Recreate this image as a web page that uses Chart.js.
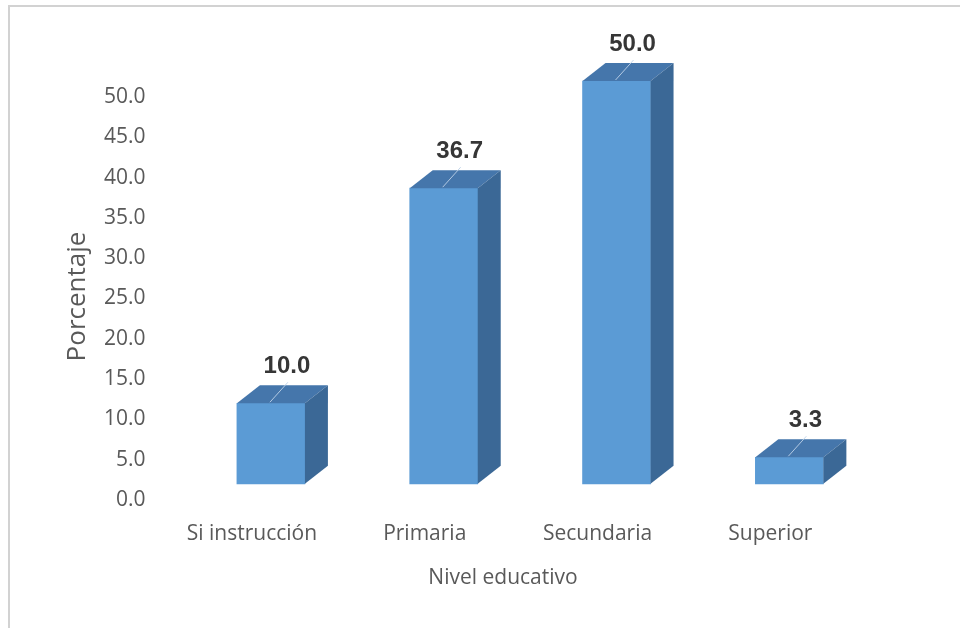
<!DOCTYPE html>
<html>
<head>
<meta charset="utf-8">
<script src="https://cdn.jsdelivr.net/npm/chart.js@4.4.1/dist/chart.umd.min.js"></script>
<style>
  html, body { margin: 0; padding: 0; background: #fff; }
  #wrap { width: 960px; height: 628px; }
</style>
</head>
<body>
<div id="wrap"><canvas id="bar-chart" width="960" height="628"></canvas></div>
<script>
const levels = ['Si instrucción', 'Primaria', 'Secundaria', 'Superior'];
const percentages = [10.0, 36.7, 50.0, 3.3];
const yMin = -3.5;   // axis runs a little under zero, bars still start at 0
const yMax = 50;
const yStep = 5;

const frontColor = '#5b9bd5';
const topColor = '#4576ab';
const sideColor = '#3b6896';
const depthX = 23;
const depthY = 18;

Chart.defaults.font.family = "'Open Sans', sans-serif";

// frame line along the top and left edge
const framePlugin = {
  id: 'frame',
  beforeDraw(chart) {
    const ctx = chart.ctx;
    ctx.save();
    ctx.fillStyle = '#fff';
    ctx.fillRect(0, 0, chart.width, chart.height);
    ctx.strokeStyle = '#d2d2d2';
    ctx.lineWidth = 2;
    ctx.beginPath();
    ctx.moveTo(9, chart.height);
    ctx.lineTo(9, 6);
    ctx.lineTo(chart.width, 6);
    ctx.stroke();
    ctx.restore();
  }
};

// top and side faces of each bar, plus the value label with its leader line
const bar3dPlugin = {
  id: 'bar3d',
  afterDatasetsDraw(chart) {
    const ctx = chart.ctx;
    const meta = chart.getDatasetMeta(0);
    ctx.save();
    meta.data.forEach((bar, i) => {
      const {x, y, base, width} = bar.getProps(['x', 'y', 'base', 'width'], true);
      const l = x - width / 2;
      const r = x + width / 2;

      ctx.fillStyle = topColor;
      ctx.beginPath();
      ctx.moveTo(l, y);
      ctx.lineTo(l + depthX, y - depthY);
      ctx.lineTo(r + depthX, y - depthY);
      ctx.lineTo(r, y);
      ctx.closePath();
      ctx.fill();

      ctx.fillStyle = sideColor;
      ctx.beginPath();
      ctx.moveTo(r, y);
      ctx.lineTo(r + depthX, y - depthY);
      ctx.lineTo(r + depthX, base - depthY);
      ctx.lineTo(r, base);
      ctx.closePath();
      ctx.fill();

      const labelX = x + 16;
      const labelY = y - depthY - 12;

      ctx.strokeStyle = 'rgba(190, 210, 232, 0.9)';
      ctx.lineWidth = 1;
      ctx.beginPath();
      ctx.moveTo(x + 17, labelY + 9);
      ctx.lineTo(x - 1, y - 1);
      ctx.stroke();

      ctx.fillStyle = '#363636';
      ctx.font = "bold 24px 'Liberation Sans', Arial, sans-serif";
      ctx.textAlign = 'center';
      ctx.textBaseline = 'alphabetic';
      ctx.fillText(percentages[i].toFixed(1), labelX, labelY);
    });
    ctx.restore();
  }
};

const barCanvas = document.getElementById('bar-chart').getContext('2d');

new Chart(barCanvas, {
  type: 'bar',
  data: {
    datasets: [{
      data: percentages.map((v, i) => ({x: i, y: v})),
      backgroundColor: frontColor,
      borderWidth: 0,
      barThickness: 68,
      clip: false
    }]
  },
  options: {
    responsive: false,
    animation: false,
    devicePixelRatio: 1,
    layout: {
      padding: {top: 81, right: 138.5, bottom: 0, left: 0}
    },
    plugins: {
      legend: {display: false},
      tooltip: {enabled: false}
    },
    scales: {
      x: {
        type: 'linear',
        offset: false,
        min: -0.5,
        max: 3.186,
        grid: {display: false, drawTicks: false, offset: false},
        border: {display: false},
        ticks: {
          stepSize: 1,
          includeBounds: false,
          autoSkip: false,
          maxRotation: 0,
          labelOffset: -19,
          padding: 9,
          color: '#595959',
          font: {size: 21},
          callback: v => Number.isInteger(v) ? levels[v] : ''
        },
        title: {
          display: true,
          text: 'Nivel educativo',
          color: '#595959',
          font: {size: 21},
          padding: {top: 0, bottom: 37}
        },
        afterFit(scale) {
          scale.height = 116;
          scale.paddingLeft = 0;
          scale.paddingRight = 0;
        }
      },
      y: {
        min: yMin,
        max: yMax,
        grid: {display: false, drawTicks: false},
        border: {display: false},
        ticks: {
          stepSize: yStep,
          includeBounds: false,
          labelOffset: 16,
          padding: 39,
          color: '#595959',
          font: {size: 21},
          callback: v => v.toFixed(1)
        },
        title: {
          display: true,
          text: 'Porcentaje',
          color: '#595959',
          font: {size: 26},
          padding: {top: 62, bottom: 0}
        },
        afterFit(scale) {
          scale.width = 184.5;
          scale.paddingTop = 0;
          scale.paddingBottom = 0;
        }
      }
    }
  },
  plugins: [framePlugin, bar3dPlugin]
});
</script>
</body>
</html>
